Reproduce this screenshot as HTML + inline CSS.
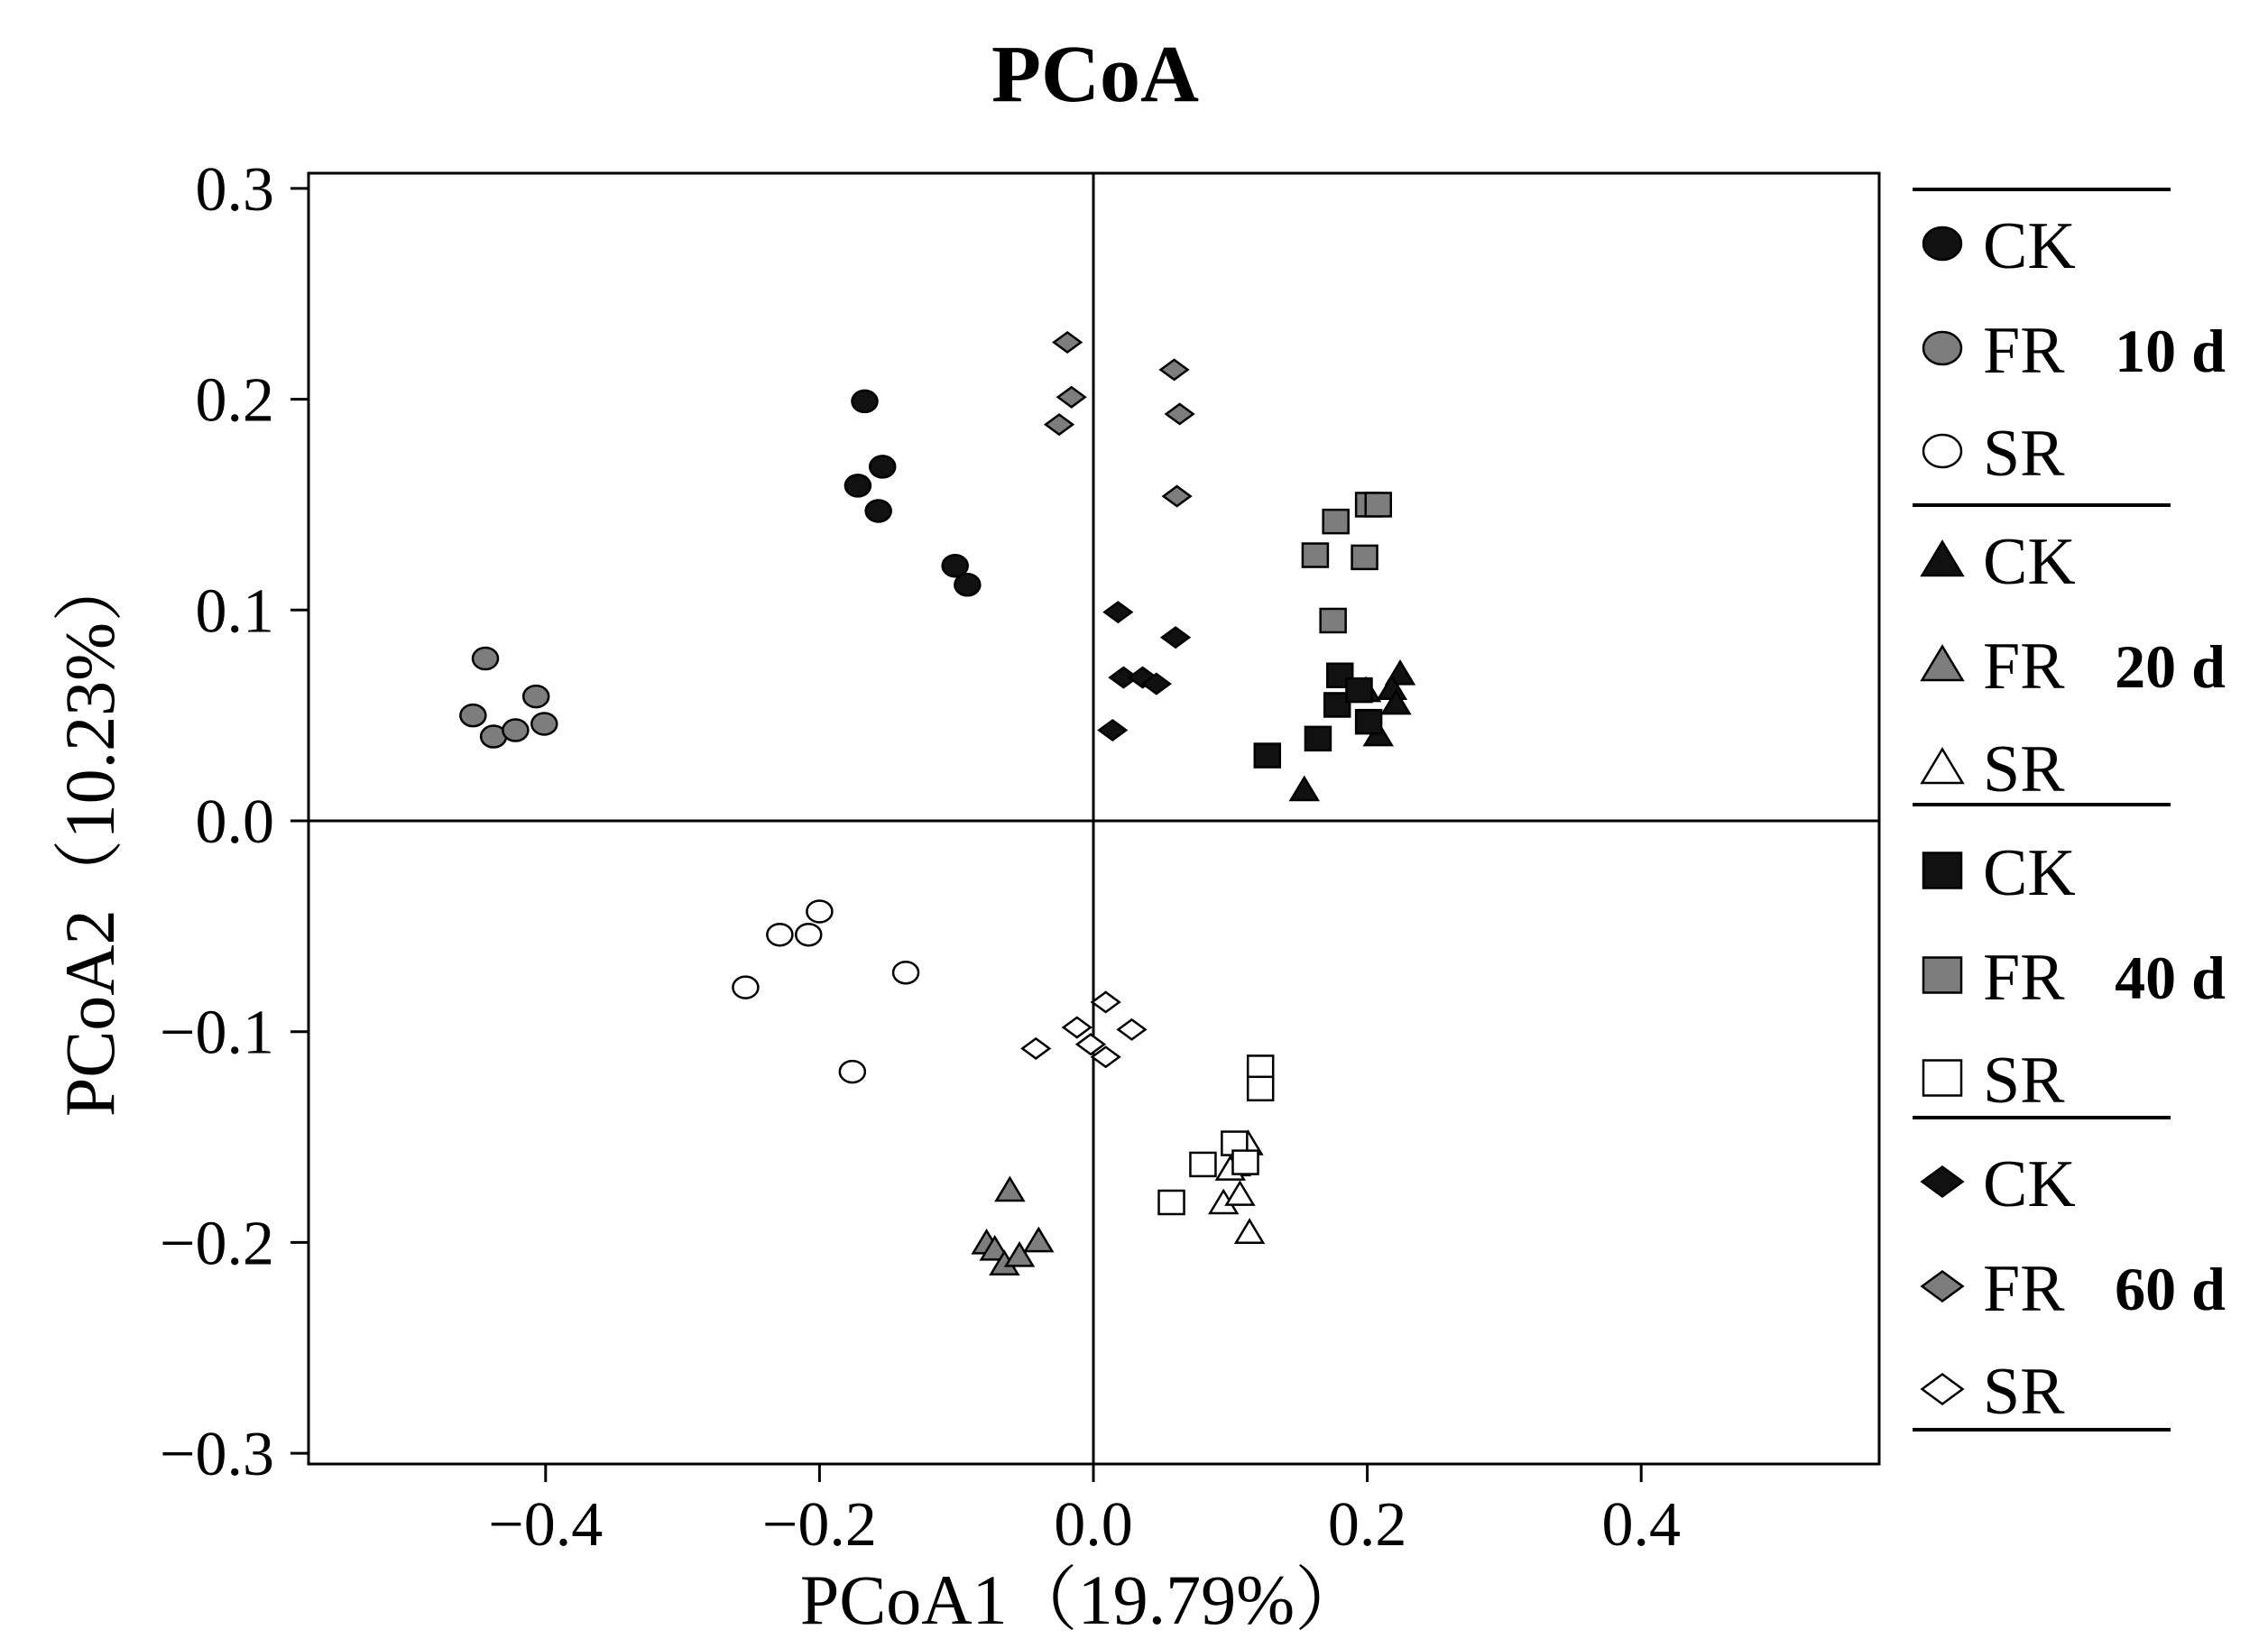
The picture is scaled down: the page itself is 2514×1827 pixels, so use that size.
<!DOCTYPE html>
<html><head><meta charset="utf-8"><style>
html,body{margin:0;padding:0;background:#fff;}
svg{display:block;font-family:"Liberation Serif","Noto Serif CJK SC",serif;}
</style></head><body>
<svg id="chart" width="2514" height="1827" viewBox="0 0 2514 1827" xmlns="http://www.w3.org/2000/svg">
<text x="1214" y="112" font-size="90" font-weight="bold" text-anchor="middle">PCoA</text>
<rect x="342" y="192" width="1741" height="1431" fill="none" stroke="#000" stroke-width="3"/>
<g id="axes"></g>
<g id="points"></g>
<text x="1200" y="1800" font-size="78" text-anchor="middle">PCoA1（19.79%）</text>
<text transform="translate(126,925) rotate(-90)" font-size="78" text-anchor="middle">PCoA2（10.23%）</text>
<g id="legend"></g>
</svg>
<script>
const xTicks=[-0.4,-0.2,0.0,0.2,0.4];
const yTicks=[0.3,0.2,0.1,0.0,-0.1,-0.2,-0.3];
const tickFmt=v=>(v<0?'\u2212':'')+Math.abs(v).toFixed(1);
const groups=['10d','20d','40d','60d'];
const treatments=['CK','FR','SR'];
// x and y values per series
const x10CK=[-0.167,-0.172,-0.154,-0.157,-0.101,-0.092];
const y10CK=[0.199,0.159,0.168,0.147,0.121,0.112];
const x10FR=[-0.444,-0.453,-0.438,-0.422,-0.407,-0.401];
const y10FR=[0.077,0.050,0.040,0.043,0.059,0.046];
const x10SR=[-0.200,-0.229,-0.208,-0.254,-0.137,-0.176];
const y10SR=[-0.043,-0.054,-0.054,-0.079,-0.072,-0.119];
const x20CK=[0.154,0.224,0.218,0.221,0.208,0.199];
const y20CK=[0.015,0.070,0.063,0.056,0.041,0.062];
const x20FR=[-0.061,-0.078,-0.072,-0.065,-0.054,-0.040];
const y20FR=[-0.175,-0.200,-0.203,-0.210,-0.206,-0.199];
const x20SR=[0.113,0.104,0.100,0.095,0.107,0.114];
const y20SR=[-0.153,-0.163,-0.165,-0.181,-0.177,-0.195];
const x40CK=[0.127,0.164,0.178,0.180,0.194,0.201];
const y40CK=[0.031,0.039,0.055,0.069,0.062,0.047];
const x40FR=[0.162,0.177,0.198,0.201,0.208,0.175];
const y40FR=[0.126,0.142,0.125,0.150,0.150,0.095];
const x40SR=[0.122,0.122,0.057,0.080,0.103,0.111];
const y40SR=[-0.117,-0.127,-0.181,-0.163,-0.153,-0.162];
const x60CK=[0.018,0.060,0.022,0.036,0.046,0.014];
const y60CK=[0.099,0.087,0.068,0.068,0.065,0.043];
const x60FR=[-0.019,-0.016,-0.025,0.059,0.063,0.061];
const y60FR=[0.227,0.201,0.188,0.214,0.193,0.154];
const x60SR=[0.009,-0.012,0.028,-0.042,-0.002,0.009];
const y60SR=[-0.086,-0.098,-0.099,-0.108,-0.106,-0.112];

const NS='http://www.w3.org/2000/svg';
const X=v=>1212+v*1518;
const Y=v=>910-v*2337;
function mk(tag,attrs,parent){const e=document.createElementNS(NS,tag);for(const k in attrs)e.setAttribute(k,attrs[k]);parent.appendChild(e);return e;}
const axes=document.getElementById('axes');
let l=mk('line',{x1:342,x2:2083,y1:Y(0),y2:Y(0),stroke:'#000','stroke-width':3},axes);


l=mk('line',{x1:X(0),x2:X(0),y1:192,y2:1623,stroke:'#000','stroke-width':3},axes);


xTicks.forEach(v=>{
  const t=mk('line',{x1:X(v),x2:X(v),y1:1623,y2:1643,stroke:'#000','stroke-width':3},axes);
  
  
  const s=mk('text',{x:X(v),y:1713,'font-size':70,'text-anchor':'middle'},axes);s.textContent=tickFmt(v);
  
  
});
yTicks.forEach(v=>{
  const t=mk('line',{x1:322,x2:342,y1:Y(v),y2:Y(v),stroke:'#000','stroke-width':3},axes);
  
  
  const s=mk('text',{x:304,y:Y(v)+24,'font-size':70,'text-anchor':'end'},axes);s.textContent=tickFmt(v);
  
  
});
const fills={CK:'#111',FR:'#7d7d7d',SR:'#fff'};
function shape(g,cx,cy,kind,fill,parent,sc){
  sc=sc||1;const a={fill:fill,stroke:'#000','stroke-width':2.5};
  if(kind==='10d') return mk('ellipse',Object.assign({cx:cx,cy:cy,rx:14*sc,ry:12*sc},a),parent);
  if(kind==='20d') return mk('polygon',Object.assign({points:`${cx-15*sc},${cy+12*sc} ${cx+15*sc},${cy+12*sc} ${cx},${cy-13*sc}`},a),parent);
  if(kind==='40d') return mk('rect',Object.assign({x:cx-14*sc,y:cy-13*sc,width:28*sc,height:26*sc},a),parent);
  return mk('polygon',Object.assign({points:`${cx-15*sc},${cy} ${cx},${cy-11*sc} ${cx+15*sc},${cy} ${cx},${cy+11*sc}`},a),parent);
}
const data={'10d':{CK:[x10CK,y10CK],FR:[x10FR,y10FR],SR:[x10SR,y10SR]},
'20d':{CK:[x20CK,y20CK],FR:[x20FR,y20FR],SR:[x20SR,y20SR]},
'40d':{CK:[x40CK,y40CK],FR:[x40FR,y40FR],SR:[x40SR,y40SR]},
'60d':{CK:[x60CK,y60CK],FR:[x60FR,y60FR],SR:[x60SR,y60SR]}};
const pts=document.getElementById('points');
groups.forEach(g=>treatments.forEach(t=>{
  const [xs,ys]=data[g][t];
  xs.forEach((xv,i)=>{
    const e=shape(g,X(xv),Y(ys[i]),g,fills[t],pts);
    
    
  });
}));
const leg=document.getElementById('legend');
const sepY=[210,560,892,1239,1585];
sepY.forEach(yv=>{
  const s=mk('line',{x1:2120,x2:2406,y1:yv,y2:yv,stroke:'#000','stroke-width':4},leg);
  
  
});
const rowY0=[270,386,500];
groups.forEach((g,gi)=>{
  const base=[0,350,695,1040][gi];
  treatments.forEach((t,ti)=>{
    const cy=rowY0[ti]+base;
    const e=shape(g,2153,cy,g,fills[t],leg,1.5);
    
    
    const s=mk('text',{x:2198,y:cy+27,'font-size':74},leg);s.textContent=t;
    
    
  });
  const s=mk('text',{x:2467,y:rowY0[1]+base+26,'font-size':68,'font-weight':'bold','text-anchor':'end'},leg);
  s.textContent=g.replace('d',' d');
  
  
});
</script>
</body></html>
